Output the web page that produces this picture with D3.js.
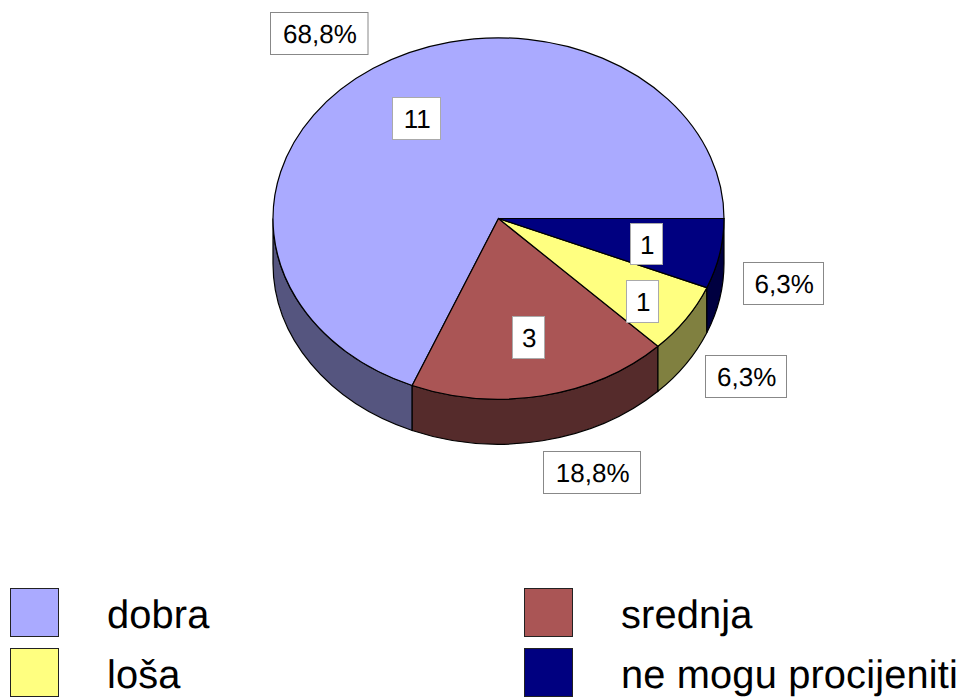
<!DOCTYPE html>
<html>
<head>
<meta charset="utf-8">
<script src="https://d3js.org/d3.v7.min.js"></script>
<style>
  html, body { margin: 0; background: #fff; }
  svg { display: block; font-family: "Liberation Sans", Arial, sans-serif; text-rendering: geometricPrecision; }
</style>
</head>
<body>
<div id="chart"></div>
<script>
// data
var categories = ['dobra', 'srednja', 'loša', 'ne mogu procijeniti'];
var counts = [11, 3, 1, 1];
var percentLabels = ['68,8%', '18,8%', '6,3%', '6,3%'];
var topColors = ['#aaaaff', '#aa5555', '#ffff80', '#000080'];
var sideColors = ['#55557f', '#552b2b', '#808040', '#000040'];

// label boxes, hand placed like the original [x, y, w, h]
var countBoxes = [[392.5, 97.5, 48, 42], [512.5, 316.5, 32, 42], [626.5, 280.5, 32, 42], [630.5, 223.5, 32, 41]];
var percentBoxes = [[270.5, 12.5, 97.5, 42], [543.5, 451.5, 97, 42], [705.5, 355.5, 81, 42], [743.5, 262.5, 80, 42]];

var width = 962, height = 698;
var cx = 498.5, cy = 218.5, rx = 225.5, ry = 180.7, depth = 45;

var svg = d3.select('#chart').append('svg')
    .attr('width', width)
    .attr('height', height);

// d3 angles: 0 is north, clockwise. the original runs counter-clockwise from east
var eastAngle = Math.PI / 2;
var pie = d3.pie().sort(null).startAngle(eastAngle + 2 * Math.PI).endAngle(eastAngle);
var slices = pie(counts);

function px(a) { return cx + rx * Math.sin(a); }
function py(a) { return cy - ry * Math.cos(a); }

// the wall is only seen where the rim faces us (d3 angle 90..270 degrees)
function wallRange(d) {
  var a0 = Math.max(Math.min(d.startAngle, d.endAngle), Math.PI / 2);
  var a1 = Math.min(Math.max(d.startAngle, d.endAngle), Math.PI * 3 / 2);
  return a1 > a0 ? [a0, a1] : null;
}

function wallPath(r) {
  return 'M' + px(r[0]) + ',' + py(r[0])
    + 'A' + rx + ',' + ry + ' 0 0 1 ' + px(r[1]) + ',' + py(r[1])
    + 'L' + px(r[1]) + ',' + (py(r[1]) + depth)
    + 'A' + rx + ',' + ry + ' 0 0 0 ' + px(r[0]) + ',' + (py(r[0]) + depth)
    + 'Z';
}

svg.append('g').selectAll('path')
    .data(slices.filter(function(d) { return wallRange(d); }))
  .enter().append('path')
    .attr('d', function(d) { return wallPath(wallRange(d)); })
    .attr('fill', function(d) { return sideColors[d.index]; })
    .attr('stroke', '#000')
    .attr('stroke-width', 1.2);

var arc = d3.arc().innerRadius(0).outerRadius(rx);

svg.append('g')
    .attr('transform', 'translate(' + cx + ',' + cy + ') scale(1,' + (ry / rx) + ')')
  .selectAll('path')
    .data(slices)
  .enter().append('path')
    .attr('d', arc)
    .attr('fill', function(d) { return topColors[d.index]; })
    .attr('stroke', '#000')
    .attr('stroke-width', 1.2)
    .attr('vector-effect', 'non-scaling-stroke');

function drawLabel(box, label, stroke) {
  svg.append('rect')
      .attr('x', box[0])
      .attr('y', box[1])
      .attr('width', box[2])
      .attr('height', box[3])
      .attr('fill', '#fff')
      .attr('stroke', stroke);
  svg.append('text')
      .attr('x', box[0] + box[2] / 2 + 0.7)
      .attr('y', box[1] + box[3] / 2 + 9.5)
      .attr('text-anchor', 'middle')
      .attr('font-size', 26)
      .text(label);
}

counts.forEach(function(c, i) { drawLabel(countBoxes[i], c, '#aaa'); });
percentLabels.forEach(function(p, i) { drawLabel(percentBoxes[i], p, '#888'); });

// legend, two columns two rows
var legendX = d3.scaleOrdinal().domain([0, 1]).range([10.5, 524.5]);
var legendY = d3.scaleOrdinal().domain([0, 1]).range([588.5, 648.5]);

var legend = svg.append('g').selectAll('g')
    .data(categories)
  .enter().append('g')
    .attr('transform', function(d, i) { return 'translate(' + legendX(i % 2) + ',' + legendY(Math.floor(i / 2)) + ')'; });

legend.append('rect')
    .attr('width', 48)
    .attr('height', 48)
    .attr('fill', function(d, i) { return topColors[i]; })
    .attr('stroke', '#222');

legend.append('text')
    .attr('x', 96.5)
    .attr('y', 39.5)
    .attr('font-size', 39.8)
    .attr('letter-spacing', 0.15)
    .text(function(d) { return d; });
</script>
</body>
</html>
